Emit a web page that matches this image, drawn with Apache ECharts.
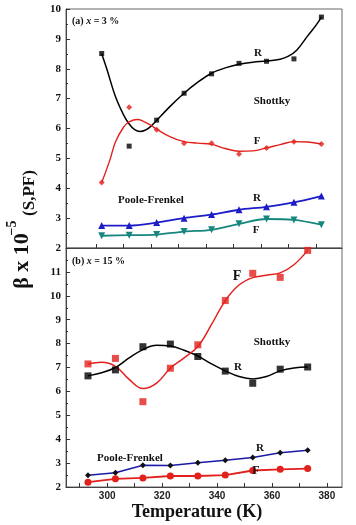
<!DOCTYPE html>
<html>
<head>
<meta charset="utf-8">
<script src="https://cdn.jsdelivr.net/npm/echarts@6/dist/echarts.min.js"></script>
<style>html,body{margin:0;padding:0;background:#fff}#c{width:356px;height:525px}</style>
</head>
<body>
<div id="c"></div>
<script>
// ---------- Panel (a) x = 3 % ----------
const tempA = [298, 308, 318, 328, 338, 348, 358, 368, 378];
const aShottkyR = [8.51, 5.41, 6.28, 7.18, 7.83, 8.18, 8.25, 8.33, 9.73];
const aShottkyF = [4.19, 6.71, 5.96, 5.51, 5.51, 5.15, 5.35, 5.56, 5.48];
const aPooleR   = [2.75, 2.75, 2.85, 3.00, 3.12, 3.28, 3.38, 3.53, 3.74];
const aPooleF   = [2.41, 2.43, 2.45, 2.55, 2.61, 2.81, 2.97, 2.94, 2.78];
// fitted curves
const aFitRT = [298, 300, 303, 306, 308, 310, 312, 314, 316, 318, 323, 328, 333, 338, 343, 348, 353, 358, 363, 366, 369, 373, 376, 378];
const aFitRV = [8.50, 7.95, 7.07, 6.45, 6.15, 5.96, 5.90, 5.95, 6.08, 6.27, 6.75, 7.18, 7.55, 7.85, 8.03, 8.15, 8.22, 8.26, 8.32, 8.42, 8.62, 9.10, 9.45, 9.73];
const aFitFT = [298, 301, 303, 306, 308, 311, 313, 316, 318, 323, 328, 333, 338, 343, 348, 353, 358, 363, 368, 373, 378];
const aFitFV = [4.19, 4.95, 5.55, 6.05, 6.22, 6.30, 6.25, 6.10, 5.98, 5.72, 5.56, 5.51, 5.47, 5.33, 5.24, 5.25, 5.35, 5.46, 5.56, 5.55, 5.48];

// ---------- Panel (b) x = 15 % ----------
const tempB = [293, 303, 313, 323, 333, 343, 353, 363, 373];
const bShottkyR = [6.65, 6.90, 7.87, 7.98, 7.46, 6.85, 6.34, 6.93, 7.02];
const bShottkyF = [7.15, 7.38, 5.57, 6.97, 7.95, 9.80, 10.94, 10.77, 11.90];
const bPooleR   = [2.49, 2.60, 2.91, 2.90, 3.01, 3.12, 3.23, 3.43, 3.54];
const bPooleF   = [2.20, 2.34, 2.38, 2.46, 2.46, 2.50, 2.69, 2.74, 2.77];
const bFitT  = [293, 298, 303, 308, 313, 318, 323, 328, 333, 338, 343, 348, 353, 358, 363, 368, 373];
const bFitRV = [6.65, 6.78, 7.00, 7.40, 7.75, 7.93, 7.90, 7.72, 7.48, 7.15, 6.86, 6.62, 6.52, 6.62, 6.86, 6.98, 7.02];
const bFitFV = [7.15, 7.22, 7.05, 6.50, 6.12, 6.35, 6.97, 7.40, 7.88, 8.80, 9.80, 10.45, 10.76, 10.86, 10.96, 11.30, 11.90];

// ---------- axes ----------
const xMin = 285, xMax = 385.5;
const xTicksA = [296, 306, 316, 326, 336, 346, 356, 366, 376];
const xTicksB = [290, 300, 310, 320, 330, 340, 350, 360, 370, 380];
const xLabelsB = [300, 320, 340, 360, 380];
const yMinA = 2, yMaxA = 10, yMinB = 2, yMaxB = 12;

const SERIF = 'Liberation Serif';
const SANS = 'Liberation Sans';
const RED = '#e2201c', BLACK = '#000', BLUE = '#1c1cc8', TEAL = '#17877e', NAVY = '#1a1aa6';

const pairs = (xs, ys) => xs.map((x, i) => [x, ys[i]]);

const chart = echarts.init(document.getElementById('c'), null, {renderer: 'canvas'});

function yAxisCfg(idx, min, max, hideMax) {
  return {
    type: 'value', gridIndex: idx, min: min, max: max, interval: 1,
    axisLine: {show: true, lineStyle: {color: '#444', width: 1}},
    axisTick: {show: true, inside: true, length: 4, lineStyle: {color: '#333'}},
    minorTick: {show: true, splitNumber: 2, length: 2, lineStyle: {color: '#333'}},
    splitLine: {show: false},
    axisLabel: {
      fontFamily: SERIF, fontWeight: 'bold', fontSize: 11, color: '#111', margin: 5,
      showMaxLabel: !hideMax
    }
  };
}

function lineS(name, xi, yi, xs, ys, color, width, smooth) {
  return {
    name: name, type: 'line', xAxisIndex: xi, yAxisIndex: yi,
    data: pairs(xs, ys), smooth: smooth, showSymbol: false, symbol: 'none',
    lineStyle: {color: color, width: width}, z: 2, animation: false
  };
}
function ptsS(name, xi, yi, xs, ys, color, symbol, size, rot) {
  return {
    name: name, type: 'scatter', xAxisIndex: xi, yAxisIndex: yi,
    data: pairs(xs, ys), symbol: symbol, symbolSize: size, symbolRotate: rot || 0,
    itemStyle: {color: color}, z: 3, animation: false
  };
}
function lineSym(name, xi, yi, xs, ys, color, width, smooth, symbol, size, symColor, rot) {
  return {
    name: name, type: 'line', xAxisIndex: xi, yAxisIndex: yi,
    data: pairs(xs, ys), smooth: smooth, symbol: symbol, symbolSize: size, symbolRotate: rot || 0,
    showSymbol: true,
    lineStyle: {color: color, width: width},
    itemStyle: {color: symColor, borderWidth: 0}, z: 3, animation: false
  };
}

function txt(x, y, text, size, opts) {
  opts = opts || {};
  return {
    type: 'text', x: x, y: y, rotation: opts.rot || 0, z: 10,
    style: {
      text: text, fontFamily: opts.family || SERIF, fontWeight: opts.weight || 'bold',
      fontSize: size, fill: opts.color || '#111',
      align: opts.align || 'center', verticalAlign: 'middle', rich: opts.rich
    }
  };
}
const richLabel = {
  b: {fontFamily: SERIF, fontWeight: 'bold', fontSize: 10, color: '#111'},
  i: {fontFamily: SERIF, fontWeight: 'bold', fontStyle: 'italic', fontSize: 10, color: '#111'}
};

const option = {
  backgroundColor: '#fff',
  animation: false,
  grid: [
    {left: 66, right: 14, top: 9, height: 239, show: true, borderColor: '#666', borderWidth: 1, backgroundColor: 'transparent'},
    {left: 66, right: 14, top: 248, height: 239, show: true, borderColor: '#666', borderWidth: 1, backgroundColor: 'transparent'}
  ],
  xAxis: [
    {
      type: 'value', gridIndex: 0, min: xMin, max: xMax,
      axisLine: {show: true, onZero: false, lineStyle: {color: '#444'}},
      axisTick: {show: true, inside: true, length: 4, customValues: xTicksA, lineStyle: {color: '#333'}},
      axisLabel: {show: false}, splitLine: {show: false}
    },
    {
      type: 'value', gridIndex: 1, min: xMin, max: xMax,
      axisLine: {show: true, onZero: false, lineStyle: {color: '#444'}},
      axisTick: {show: true, inside: true, length: 4, customValues: xTicksB, lineStyle: {color: '#333'}},
      axisLabel: {show: true, customValues: xLabelsB, fontFamily: SANS, fontWeight: 'bold', fontSize: 10, color: '#222', margin: 4},
      splitLine: {show: false}
    }
  ],
  yAxis: [yAxisCfg(0, yMinA, yMaxA, false), yAxisCfg(1, yMinB, yMaxB, true)],
  series: [
    lineS('aFitR', 0, 0, aFitRT, aFitRV, BLACK, 1.5, 0.35),
    ptsS('aR', 0, 0, tempA, aShottkyR, BLACK, 'rect', 5),
    lineS('aFitF', 0, 0, aFitFT, aFitFV, RED, 1.4, 0.4),
    ptsS('aF', 0, 0, tempA, aShottkyF, RED, 'diamond', 6),
    lineSym('aPR', 0, 0, tempA, aPooleR, BLUE, 1.8, 0.3, 'triangle', 7, BLUE),
    lineSym('aPF', 0, 0, tempA, aPooleF, TEAL, 1.8, 0.3, 'triangle', 7, TEAL, 180),

    lineS('bFitR', 1, 1, bFitT, bFitRV, BLACK, 1.5, 0.4),
    ptsS('bR', 1, 1, tempB, bShottkyR, BLACK, 'rect', 7),
    lineS('bFitF', 1, 1, bFitT, bFitFV, RED, 1.5, 0.4),
    ptsS('bF', 1, 1, tempB, bShottkyF, RED, 'rect', 7),
    lineSym('bPR', 1, 1, tempB, bPooleR, NAVY, 1.5, false, 'diamond', 6, '#111'),
    lineSym('bPF', 1, 1, tempB, bPooleF, RED, 1.8, false, 'circle', 7, RED)
  ],
  graphic: [
    // y-axis title
    txt(22, 261, 'β x 10', 22, {rot: Math.PI / 2}),
    txt(12, 228, '−5', 14, {rot: Math.PI / 2}),
    txt(30, 193, '(S,PF)', 17, {rot: Math.PI / 2}),
    // x-axis title
    txt(197, 512, 'Temperature (K)', 18),
    // panel a
    txt(72, 21, '{b|(a) }{i|x}{b| = 3 %}', 10, {align: 'left', rich: richLabel}),
    txt(258, 53, 'R', 11),
    txt(272, 101, 'Shottky', 11),
    txt(257, 141, 'F', 11),
    txt(151, 200, 'Poole-Frenkel', 11),
    txt(257, 198, 'R', 11),
    txt(256, 230, 'F', 11),
    // panel b
    txt(72, 261, '{b|(b) }{i|x}{b| = 15 %}', 10, {align: 'left', rich: richLabel}),
    txt(237, 276, 'F', 14),
    txt(272, 342, 'Shottky', 11),
    txt(238, 367, 'R', 11),
    txt(130, 458, 'Poole-Frenkel', 11),
    txt(260, 448, 'R', 11),
    txt(256, 471, 'F', 12)
  ]
};
chart.setOption(option);
</script>
</body>
</html>
